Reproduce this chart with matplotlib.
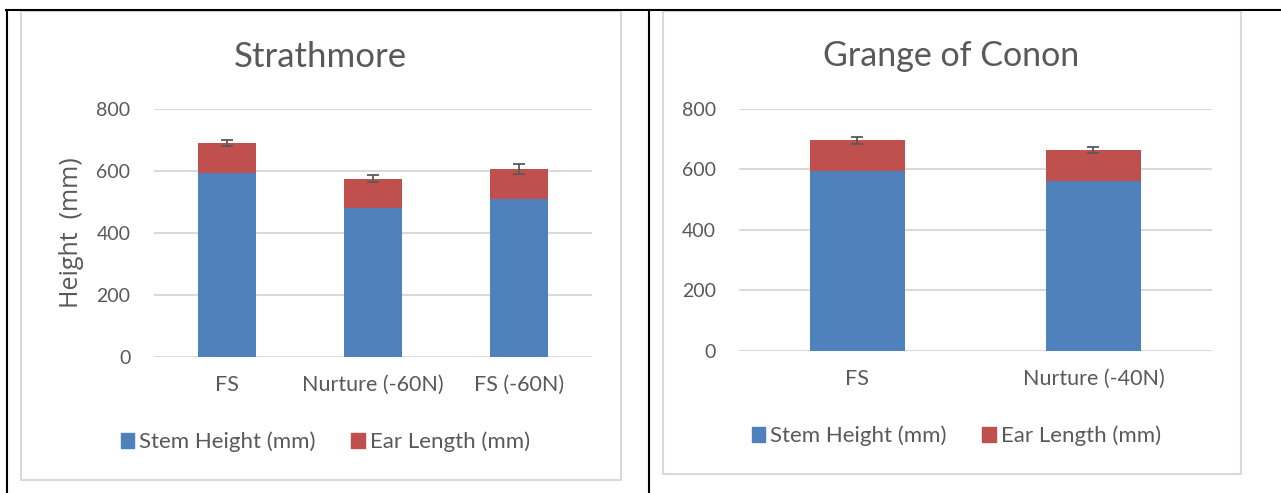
import numpy as np
import matplotlib
matplotlib.use("Agg")
import matplotlib.pyplot as plt
from matplotlib.patches import Rectangle
from matplotlib.lines import Line2D

# data
strath_cats = ["FS", "Nurture (-60N)", "FS (-60N)"]
strath_stem = [593, 479, 510]
strath_ear = [97, 96, 96]
strath_err = [10, 10, 16]

grange_cats = ["FS", "Nurture (-40N)"]
grange_stem = [594, 562]
grange_ear = [102, 101]
grange_err = [11, 10]

series_names = ["Stem Height (mm)", "Ear Length (mm)"]
BLUE = "#4F81BD"
RED = "#C0504D"
GREY = "#595959"
GRID = "#D9D9D9"

plt.rcParams["font.family"] = ["Lato", "DejaVu Sans"]

W, H = 1281, 493
fig = plt.figure(figsize=(W / 100, H / 100), dpi=100)


def px(x0, y0, x1, y1):
    # pixel box (top-left origin) -> figure fraction rect
    return [x0 / W, 1 - y1 / H, (x1 - x0) / W, (y1 - y0) / H]


def panel(rect, cats, stem, ear, err):
    ax = fig.add_axes(rect)
    x = np.arange(len(cats))
    tops = np.array(stem) + np.array(ear)
    ax.bar(x, stem, width=0.4, color=BLUE, zorder=2)
    ax.bar(x, ear, width=0.4, bottom=stem, color=RED, zorder=2)
    ax.errorbar(x, tops, yerr=err, fmt="none", ecolor=GREY, elinewidth=1.3,
                capsize=4, capthick=1.3, zorder=3)
    ax.set_xlim(-0.5, len(cats) - 0.5)
    ax.set_ylim(0, 800)
    ax.set_yticks([0, 200, 400, 600, 800])
    ax.set_xticks(x)
    ax.set_xticklabels(cats)
    ax.yaxis.grid(True, color=GRID, linewidth=1.4)
    ax.set_axisbelow(True)
    for s in ax.spines.values():
        s.set_visible(False)
    ax.tick_params(length=0, labelcolor=GREY)
    ax.tick_params(axis="y", pad=17, labelsize=14)
    ax.tick_params(axis="x", pad=13, labelsize=15.5)
    return ax


ax1 = panel(px(154, 108.7, 591.8, 357), strath_cats, strath_stem, strath_ear, strath_err)
ax2 = panel(px(739.3, 108.7, 1211.5, 351), grange_cats, grange_stem, grange_ear, grange_err)

# titles and axis label
fig.text(320.5 / W, 1 - 66.7 / H, "Strathmore", ha="center", va="baseline", fontsize=25, color=GREY)
fig.text(951.5 / W, 1 - 66 / H, "Grange of Conon", ha="center", va="baseline", fontsize=24.5, color=GREY)
fig.text(72 / W, 1 - 233 / H, "Height  (mm)", ha="center", va="center", rotation=90,
         fontsize=18, color=GREY, family=["Open Sans", "DejaVu Sans"])

# legends
for cx, cy in [(325.5, 442), (956.5, 436)]:
    handles = [Rectangle((0, 0), 1, 1, color=BLUE), Rectangle((0, 0), 1, 1, color=RED)]
    fig.legend(handles, series_names, loc="center", bbox_to_anchor=(cx / W, 1 - cy / H),
               ncol=2, frameon=False, fontsize=16, labelcolor=GREY,
               handlelength=0.6, handleheight=0.6, handletextpad=0.25, columnspacing=1.6)

# chart area borders
for x0, y0, x1, y1 in [(21, 10.5, 621, 480), (662.5, 10.5, 1241, 473.5)]:
    fig.patches.append(Rectangle((x0 / W, 1 - y1 / H), (x1 - x0) / W, (y1 - y0) / H,
                                 transform=fig.transFigure, fill=False,
                                 edgecolor=GRID, linewidth=1.5))

# table lines of the surrounding document
fig.lines.append(Line2D([6 / W, 1], [1 - 9.5 / H, 1 - 9.5 / H], transform=fig.transFigure, color="black", linewidth=1.5))
fig.lines.append(Line2D([7 / W, 7 / W], [0, 1 - 9.5 / H], transform=fig.transFigure, color="black", linewidth=1.5))
fig.lines.append(Line2D([649 / W, 649 / W], [0, 1 - 9.5 / H], transform=fig.transFigure, color="black", linewidth=1.5))

fig.savefig("out.png", dpi=100)
